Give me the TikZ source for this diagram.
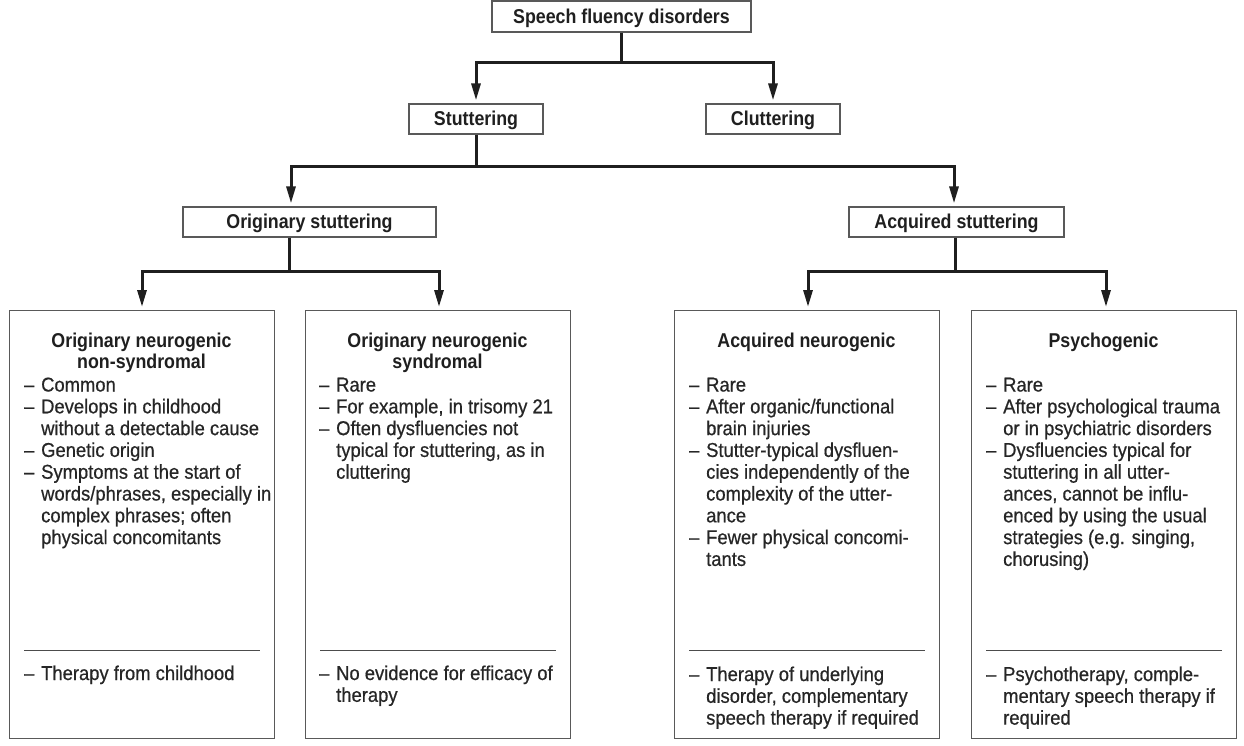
\documentclass[tikz,border=0pt]{standalone}
\usepackage{fontspec}
\setmainfont{Liberation Sans}[FakeStretch=0.92,FakeBold=0.6]
\newfontfamily\hdfont{Liberation Sans}[FakeStretch=0.89]
\usetikzlibrary{arrows.meta,calc}
\newcommand\bodyf{\fontsize{20}{21.8}\selectfont}
\newcommand\hdf{\hdfont\bfseries\fontsize{20}{21.8}\selectfont}
\newcommand\dsh{\makebox[17pt][l]{\textendash}}
\newcommand\indt{\hspace*{17pt}}
\tikzset{
  smallbox/.style={draw=black!65, line width=1.2pt, fill=white, inner sep=0pt,
    font=\hdf, text=black!88, text height=15pt, text depth=1pt},
  bigbox/.style={draw=black!65, line width=1.2pt, inner sep=0pt,
    minimum width=265pt, minimum height=428pt, anchor=north west},
  conn/.style={line width=3pt, draw=black!88},
  arr/.style={conn, -{Triangle[length=17pt,width=9pt]}, shorten >=3pt},
  sepline/.style={line width=1.2pt, draw=black!70},
  body/.style={inner sep=0pt, anchor=base west, font=\bodyf, text=black!85},
  ttl/.style={inner sep=0pt, anchor=base, font=\hdf, text=black!88},
}
\begin{document}
\begin{tikzpicture}[x=1pt,y=-1pt]
\useasboundingbox (0,0) rectangle (1244,746);

% upper boxes
\node[smallbox, minimum width=259pt, minimum height=31pt] (top) at (621.5,16.5) {Speech fluency disorders};
\node[smallbox, minimum width=134pt, minimum height=30pt] (stut) at (476,119) {Stuttering};
\node[smallbox, minimum width=134pt, minimum height=30pt] (clut) at (773,119) {Cluttering};
\node[smallbox, minimum width=253pt, minimum height=30pt] (orig) at (309.5,222) {Originary stuttering};
\node[smallbox, minimum width=215pt, minimum height=30pt] (acq) at (956.5,222) {Acquired stuttering};

% big boxes
\node[bigbox] (b1) at (9,310) {};
\node[bigbox] (b2) at (305,310) {};
\node[bigbox] (b3) at (674,310) {};
\node[bigbox] (b4) at (971,310) {};

% connector coordinates
\coordinate (j1) at (621.5,63);
\coordinate (k1) at (291,167);
\coordinate (k2) at (954,167);
\coordinate (m1) at (289,271);
\coordinate (m2) at (955,271);
\coordinate (a1) at (142,271);
\coordinate (a2) at (439,271);
\coordinate (a3) at (808,271);
\coordinate (a4) at (1106,271);

\draw[conn] (top.south) -- (j1);
\draw[arr] (j1) -| (stut.north);
\draw[arr] (j1) -| (clut.north);

\draw[conn] (stut.south) -- (stut.south |- k1);
\draw[arr] (stut.south |- k1) -| (orig.north -| k1);
\draw[arr] (stut.south |- k1) -| (acq.north -| k2);

\draw[conn] (orig.south -| m1) -- (m1);
\draw[arr] (m1) -| (b1.north -| a1);
\draw[arr] (m1) -| (b2.north -| a2);

\draw[conn] (acq.south -| m2) -- (m2);
\draw[arr] (m2) -| (b3.north -| a3);
\draw[arr] (m2) -| (b4.north -| a4);

% separators
\foreach \b in {b1,b2,b3,b4}{
  \draw[sepline] ($(\b.south west)+(15pt,89pt)$) -- ($(\b.south east)+(-15pt,89pt)$);
}

% box 1
\node[ttl] (t1) at (141.5,347) {\begin{tabular}[t]{@{}c@{}}Originary neurogenic\\non-syndromal\end{tabular}};
\node[body] (l1) at (24,391.5) {\begin{tabular}[t]{@{}l@{}}
\dsh Common\\
\dsh Develops in childhood\\
\indt without a detectable cause\\
\dsh Genetic origin\\
\dsh Symptoms at the start of\\
\indt words/phrases, especially in\\
\indt complex phrases; often\\
\indt physical concomitants
\end{tabular}};
\node[body] (f1) at (24,680) {\begin{tabular}[t]{@{}l@{}}\dsh Therapy from childhood\end{tabular}};

% box 2
\node[ttl] (t2) at (437.5,347) {\begin{tabular}[t]{@{}c@{}}Originary neurogenic\\syndromal\end{tabular}};
\node[body] (l2) at (319,391.5) {\begin{tabular}[t]{@{}l@{}}
\dsh Rare\\
\dsh For example, in trisomy 21\\
\dsh Often dysfluencies not\\
\indt typical for stuttering, as in\\
\indt cluttering
\end{tabular}};
\node[body] (f2) at (319,680) {\begin{tabular}[t]{@{}l@{}}
\dsh No evidence for efficacy of\\
\indt therapy
\end{tabular}};

% box 3
\node[ttl] (t3) at (806.5,347) {Acquired neurogenic};
\node[body] (l3) at (689,391.5) {\begin{tabular}[t]{@{}l@{}}
\dsh Rare\\
\dsh After organic/functional\\
\indt brain injuries\\
\dsh Stutter-typical dysfluen-\\
\indt cies independently of the\\
\indt complexity of the utter-\\
\indt ance\\
\dsh Fewer physical concomi-\\
\indt tants
\end{tabular}};
\node[body] (f3) at (689,681) {\begin{tabular}[t]{@{}l@{}}
\dsh Therapy of underlying\\
\indt disorder, complementary\\
\indt speech therapy if required
\end{tabular}};

% box 4
\node[ttl] (t4) at (1103.5,347) {Psychogenic};
\node[body] (l4) at (986,391.5) {\begin{tabular}[t]{@{}l@{}}
\dsh Rare\\
\dsh After psychological trauma\\
\indt or in psychiatric disorders\\
\dsh Dysfluencies typical for\\
\indt stuttering in all utter-\\
\indt ances, cannot be influ-\\
\indt enced by using the usual\\
\indt strategies (e.g. singing,\\
\indt chorusing)
\end{tabular}};
\node[body] (f4) at (986,681) {\begin{tabular}[t]{@{}l@{}}
\dsh Psychotherapy, comple-\\
\indt mentary speech therapy if\\
\indt required
\end{tabular}};
\end{tikzpicture}
\end{document}
